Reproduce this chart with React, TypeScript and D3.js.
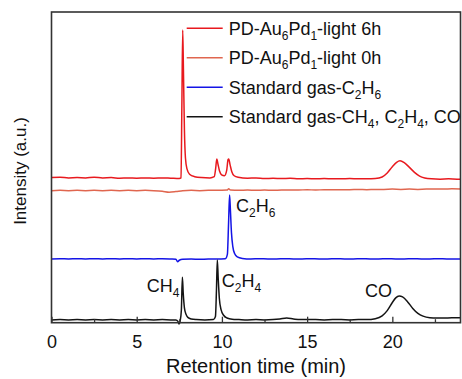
import { useEffect, useRef } from 'react';
import * as d3 from 'd3';

type Pt = [number, number];
type Part = { t: string; sub?: boolean };

// retention time (min), intensity (a.u., traces offset)
const xTicks = [0, 5, 10, 15, 20];
const xMinorTicks = [2.5, 7.5, 12.5, 17.5, 22.5];

const red6h: Pt[] = [
  [0, 46.7], [0.5, 46.8], [1, 46.6], [1.5, 46.7], [2, 46.6], [2.5, 46.8], [3, 46.6], [3.5, 46.7],
  [4, 46.5], [4.5, 46.6], [5, 46.5], [5.5, 46.6], [6, 46.5], [6.5, 46.6], [7, 46.5], [7.5, 46.4],
  [7.6, 46.6], [7.65, 70], [7.7, 94.2], [7.74, 82], [7.8, 62], [7.86, 53], [7.95, 49.5], [8.1, 47.8],
  [8.4, 47.0], [8.8, 46.7], [9.3, 46.6], [9.55, 47.0], [9.63, 49.5], [9.7, 52.7], [9.77, 51], [9.86, 48.8],
  [9.98, 47.6], [10.15, 47.3], [10.28, 49], [10.36, 52.5], [10.4, 52.7], [10.48, 50.8], [10.58, 48.6],
  [10.72, 47.3], [10.95, 46.8], [11.5, 46.5], [12, 46.6], [12.5, 46.4], [13, 46.5], [13.5, 46.4],
  [14, 46.5], [14.5, 46.3], [15, 46.4], [15.5, 46.3], [16, 46.4], [16.5, 46.3], [17, 46.3], [17.5, 46.4],
  [18, 46.3], [18.5, 46.3], [19, 46.4], [19.4, 46.9], [19.7, 48.2], [20.0, 50.2], [20.25, 51.6],
  [20.45, 52.1], [20.7, 51.5], [21.0, 50.0], [21.3, 48.4], [21.6, 47.2], [21.9, 46.6], [22.3, 46.3],
  [22.8, 46.2], [23.3, 46.3], [23.8, 46.2], [24, 46.2],
];

const red0h: Pt[] = [
  [0, 42.5], [0.5, 42.6], [1, 42.5], [1.5, 42.6], [2, 42.5], [2.5, 42.6], [3, 42.5], [3.5, 42.6],
  [4, 42.5], [4.5, 42.6], [5, 42.5], [5.5, 42.6], [6, 42.5], [6.5, 42.3], [6.9, 42.0], [7.3, 42.2],
  [7.7, 42.5], [8.2, 42.6], [8.7, 42.5], [9.2, 42.6], [9.7, 42.6], [10.3, 42.7], [10.4, 43.1],
  [10.5, 42.7], [11, 42.6], [11.5, 42.7], [12, 42.6], [12.5, 42.7], [13, 42.6], [13.5, 42.7],
  [14, 42.7], [14.5, 42.7], [15, 42.8], [15.5, 42.7], [16, 42.8], [16.5, 42.8], [17, 42.8],
  [17.5, 42.8], [18, 42.9], [18.5, 42.8], [19, 42.9], [19.5, 42.9], [20, 43.0], [20.5, 42.9],
  [21, 43.0], [21.5, 42.9], [22, 43.0], [22.5, 43.0], [23, 43.0], [23.5, 43.1], [24, 43.0],
];

const blueC2H6: Pt[] = [
  [0, 20.5], [0.5, 20.6], [1, 20.5], [1.5, 20.6], [2, 20.5], [2.5, 20.6], [3, 20.5], [3.5, 20.6],
  [4, 20.5], [4.5, 20.6], [5, 20.5], [5.5, 20.6], [6, 20.5], [6.5, 20.6], [7, 20.5], [7.3, 20.4],
  [7.4, 19.6], [7.5, 20.1], [7.7, 20.4], [8.2, 20.5], [8.7, 20.4], [9.2, 20.5], [9.7, 20.5],
  [10.2, 20.6], [10.32, 22], [10.39, 32], [10.45, 41.1], [10.5, 36], [10.56, 29], [10.64, 24.5],
  [10.75, 22.2], [10.9, 21.2], [11.2, 20.7], [11.7, 20.5], [12.2, 20.6], [12.7, 20.5], [13.2, 20.5],
  [13.7, 20.6], [14.2, 20.5], [14.7, 20.5], [15.2, 20.6], [15.7, 20.5], [16.2, 20.5], [16.7, 20.6],
  [17.2, 20.5], [17.7, 20.5], [18.2, 20.6], [18.7, 20.5], [19.2, 20.5], [19.7, 20.6], [20.2, 20.5],
  [20.7, 20.5], [21.2, 20.6], [21.7, 20.5], [22.2, 20.5], [22.7, 20.6], [23.2, 20.5], [24, 20.5],
];

const blackStd: Pt[] = [
  [0, 0.9], [0.5, 1.0], [1, 0.9], [1.5, 1.0], [2, 0.9], [2.5, 1.0], [3, 0.9], [3.5, 1.0],
  [4, 0.9], [4.5, 1.0], [5, 0.9], [5.5, 1.0], [6, 0.9], [6.5, 1.0], [7, 0.9], [7.3, 0.9],
  [7.42, 0.4], [7.48, -0.4], [7.55, 0.6], [7.62, 4], [7.68, 14.6], [7.73, 9.5], [7.8, 4.8],
  [7.9, 2.6], [8.0, 1.7], [8.2, 1.2], [8.5, 1.0], [9, 0.9], [9.5, 1.0], [9.62, 2.0], [9.68, 10.5],
  [9.73, 20.2], [9.78, 14.5], [9.85, 7.8], [9.95, 4.2], [10.1, 2.4], [10.3, 1.5], [10.6, 1.1],
  [11, 1.0], [11.5, 0.9], [12, 1.0], [12.5, 0.9], [13, 1.0], [13.4, 1.2], [13.8, 1.5], [14.2, 1.2],
  [14.6, 1.0], [15, 1.0], [15.5, 1.0], [16, 0.9], [16.5, 1.0], [17, 1.0], [17.5, 0.9], [18, 1.0],
  [18.5, 1.0], [19, 1.3], [19.4, 2.2], [19.7, 3.9], [20.0, 6.5], [20.2, 8.0], [20.4, 8.6],
  [20.6, 8.3], [20.9, 6.7], [21.2, 4.6], [21.5, 3.0], [21.8, 2.1], [22.2, 1.6], [22.6, 1.5],
  [23, 1.5], [23.5, 1.6], [24, 1.6],
];

const seriesData = [red6h, red0h, blueC2H6, blackStd];
const seriesColors = ['#e8191e', '#e0664f', '#1414e6', '#141414'];

const legendLabels: Part[][] = [
  [{ t: 'PD-Au' }, { t: '6', sub: true }, { t: 'Pd' }, { t: '1', sub: true }, { t: '-light 6h' }],
  [{ t: 'PD-Au' }, { t: '6', sub: true }, { t: 'Pd' }, { t: '1', sub: true }, { t: '-light 0h' }],
  [{ t: 'Standard gas-C' }, { t: '2', sub: true }, { t: 'H' }, { t: '6', sub: true }],
  [
    { t: 'Standard gas-CH' }, { t: '4', sub: true }, { t: ', C' }, { t: '2', sub: true },
    { t: 'H' }, { t: '4', sub: true }, { t: ', CO' },
  ],
];

// peak annotations: text parts + anchor in data units (time, intensity)
const peakLabels: { parts: Part[]; at: Pt }[] = [
  { parts: [{ t: 'C' }, { t: '2', sub: true }, { t: 'H' }, { t: '6', sub: true }], at: [10.83, 35.6] },
  { parts: [{ t: 'CH' }, { t: '4', sub: true }], at: [5.59, 10.0] },
  { parts: [{ t: 'C' }, { t: '2', sub: true }, { t: 'H' }, { t: '4', sub: true }], at: [9.99, 11.5] },
  { parts: [{ t: 'CO' }], at: [18.4, 8.3] },
];

const FONT = '"Liberation Sans", Arial, Helvetica, sans-serif';

const addRich = (
  sel: d3.Selection<SVGTextElement, unknown, null, undefined>,
  parts: Part[]
) => {
  let down = false;
  parts.forEach((p) => {
    const ts = sel.append('tspan').text(p.t);
    if (p.sub && !down) {
      ts.attr('dy', 5).style('font-size', '12px');
      down = true;
    } else if (p.sub) {
      ts.style('font-size', '12px');
    } else if (down) {
      ts.attr('dy', -5);
      down = false;
    }
  });
};

const App = () => {
  const svgRef = useRef<SVGSVGElement>(null);

  useEffect(() => {
    const width = 462;
    const height = 379;
    const margin = { top: 12, right: 1.5, bottom: 56.3, left: 51.5 };

    const svg = d3.select(svgRef.current);
    svg.selectAll('*').remove();
    svg.attr('width', width).attr('height', height).style('font-family', FONT);

    svg.append('rect').attr('width', width).attr('height', height).attr('fill', '#fff');

    const x = d3.scaleLinear().domain([0, 24]).range([margin.left, width - margin.right]);
    const y = d3.scaleLinear().domain([0, 100]).range([height - margin.bottom, margin.top]);

    // traces
    const line = d3
      .line<Pt>()
      .x((d) => x(d[0]))
      .y((d) => y(d[1]))
      .curve(d3.curveMonotoneX);

    seriesData.forEach((s, i) => {
      svg
        .append('path')
        .datum(s)
        .attr('d', line)
        .attr('fill', 'none')
        .attr('stroke', seriesColors[i])
        .attr('stroke-width', 1.5)
        .attr('stroke-linejoin', 'round');
    });

    // x axis (ticks inward)
    const xAxis = svg
      .append('g')
      .attr('transform', `translate(0,${height - margin.bottom})`)
      .call(
        d3.axisBottom(x).tickValues(xTicks).tickSizeInner(-6).tickSizeOuter(0).tickPadding(12.5)
      );
    xAxis.select('.domain').remove();
    xAxis.selectAll('line').attr('stroke', '#333').attr('stroke-width', 1.3);
    xAxis
      .selectAll('text')
      .style('font-size', '18px')
      .style('font-family', FONT)
      .attr('fill', '#111');

    const xMinor = svg
      .append('g')
      .attr('transform', `translate(0,${height - margin.bottom})`)
      .call(
        d3.axisBottom(x).tickValues(xMinorTicks).tickSizeInner(-3.5).tickSizeOuter(0).tickFormat(() => '')
      );
    xMinor.select('.domain').remove();
    xMinor.selectAll('line').attr('stroke', '#333').attr('stroke-width', 1.3);

    // frame
    svg
      .append('rect')
      .attr('x', margin.left)
      .attr('y', margin.top)
      .attr('width', width - margin.left - margin.right)
      .attr('height', height - margin.top - margin.bottom)
      .attr('fill', 'none')
      .attr('stroke', '#333')
      .attr('stroke-width', 1.6);

    // axis titles
    svg
      .append('text')
      .attr('x', (margin.left + width - margin.right) / 2)
      .attr('y', 373)
      .attr('text-anchor', 'middle')
      .style('font-size', '20px')
      .attr('fill', '#111')
      .text('Retention time (min)');

    svg
      .append('text')
      .attr('transform', 'translate(26,171) rotate(-90)')
      .attr('text-anchor', 'middle')
      .style('font-size', '17px')
      .attr('fill', '#111')
      .text('Intensity (a.u.)');

    // peak labels
    peakLabels.forEach((p) => {
      const t = svg
        .append('text')
        .attr('x', x(p.at[0]))
        .attr('y', y(p.at[1]))
        .style('font-size', '18px')
        .attr('fill', '#111');
      addRich(t, p.parts);
    });

    // legend
    legendLabels.forEach((parts, i) => {
      const ly = 28.3 + i * 29.45;
      svg
        .append('line')
        .attr('x1', 186.7)
        .attr('x2', 222.7)
        .attr('y1', ly)
        .attr('y2', ly)
        .attr('stroke', seriesColors[i])
        .attr('stroke-width', 1.5);
      const t = svg
        .append('text')
        .attr('x', 228.7)
        .attr('y', ly + 6.3)
        .style('font-size', '18px')
        .attr('fill', '#111');
      addRich(t, parts);
    });
  }, []);

  return (
    <div style={{ position: 'fixed', left: 0, top: 0 }}>
      <svg ref={svgRef} style={{ display: 'block' }}></svg>
    </div>
  );
};

export default App;
